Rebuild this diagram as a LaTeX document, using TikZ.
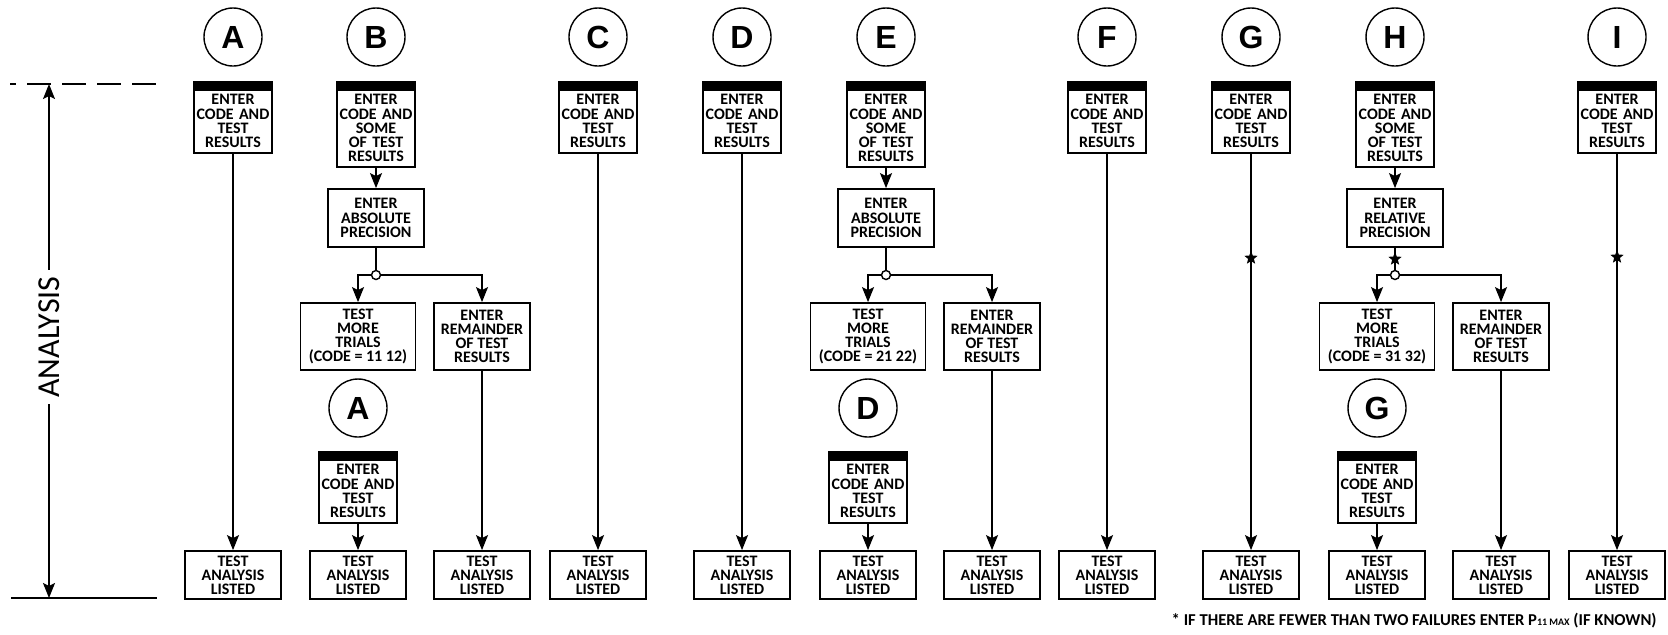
\documentclass[tikz,border=0pt]{standalone}
\usepackage{fontspec}
\setmainfont{Carlito}
\newfontfamily\letterfont{Liberation Sans}
\usetikzlibrary{arrows.meta,shapes.geometric}

\newcommand{\boxfont}{\bfseries\fontsize{8}{7.1}\selectfont}
\newcommand{\bandgap}{\rule{0pt}{9pt}}
\newcommand{\entrytext}{\bandgap ENTER\\CODE AND\\TEST\\RESULTS}
\newcommand{\entrysome}{\bandgap ENTER\\CODE AND\\SOME\\OF TEST\\RESULTS}
\newcommand{\listedtext}{TEST\\ANALYSIS\\LISTED}

\begin{document}
\begin{tikzpicture}[x=0.5pt,y=-0.5pt,
  conn/.style={line width=0.75pt},
  arr/.style={conn,-{Stealth[length=7.5pt,width=6pt,inset=1.5pt]}},
  tag/.style={circle,draw,line width=0.7pt,minimum size=29pt,inner sep=0pt,
    font=\letterfont\bfseries\fontsize{16}{16}\selectfont},
  entrybox/.style={draw,line width=0.9pt,inner xsep=0pt,inner ysep=2.5pt,
    text width=39pt,align=center,anchor=north,font=\boxfont,
    path picture={\fill (path picture bounding box.north west) rectangle
      ([yshift=-4.5pt]path picture bounding box.north east);}},
  stepbox/.style={draw,line width=0.9pt,inner sep=0pt,align=center,
    font=\boxfont,minimum width=48pt},
  listbox/.style={stepbox,minimum height=24pt},
  joint/.style={circle,draw,line width=0.7pt,fill=white,minimum size=4.5pt,inner sep=0pt},
  starmark/.style={star,star points=5,star point ratio=2.3,fill=black,
    minimum size=7pt,inner sep=0pt}
]
\fill[white] (0,0) rectangle (1668,634);
\useasboundingbox (0,0) rectangle (1668,634);

% analysis span at the left
\coordinate (dashL) at (10,84);
\coordinate (dashR) at (157,84);
\coordinate (baseL) at (11,598);
\coordinate (baseR) at (157,598);
\coordinate (axTop) at (49,84);
\coordinate (axBot) at (49,598);
\draw[line width=1pt,dash pattern=on 12pt off 5.5pt,dash phase=9pt] (dashL) -- (dashR);
\draw[line width=1pt] (baseL) -- (baseR);
\node[rotate=90,inner sep=3pt,font=\fontsize{16}{16}\selectfont] (axLabel) at (49,337) {ANALYSIS};
\draw[arr] (axLabel.east) -- (axTop);
\draw[arr] (axLabel.west) -- (axBot);

% single-path columns
\foreach \n/\x in {A/233,C/598,D/742,F/1107,G/1251,I/1617} {
  \node[tag] (c\n) at (\x,37) {\n};
  \node[entrybox] (e\n) at (\x,81) {\entrytext};
  \node[listbox] (r\n) at (\x,575) {\listedtext};
  \draw[arr] (e\n.south) -- (r\n.north);
}
\node[starmark] (sG) at (1251,258) {};
\node[starmark] (sI) at (1617,257) {};

% branched columns
\foreach \n/\x/\lt/\cd/\pr in {B/376/A/11 12/ABSOLUTE,E/886/D/21 22/ABSOLUTE,H/1395/G/31 32/RELATIVE} {
  \node[tag] (c\n) at (\x,37) {\n};
  \node[entrybox] (e\n) at (\x,81) {\entrysome};
  \node[stepbox,minimum height=29pt] (p\n) at (\x,218) {ENTER\\\pr\\PRECISION};
  \node[joint] (j\n) at (\x,275) {};
  \node[stepbox,minimum width=57.5pt,minimum height=33.5pt] (t\n) at (\x-18,336.5)
    {TEST\\MORE\\TRIALS\\(CODE = \cd)};
  \node[stepbox,minimum height=33.5pt] (m\n) at (\x+106,336.5)
    {ENTER\\REMAINDER\\OF TEST\\RESULTS};
  \node[tag] (c\n2) at (\x-18,408) {\lt};
  \node[entrybox] (e\n2) at (\x-18,451) {\entrytext};
  \node[listbox] (r\n1) at (\x-18,575) {\listedtext};
  \node[listbox] (r\n2) at (\x+106,575) {\listedtext};
  \draw[arr] (e\n.south) -- (p\n.north);
  \draw[conn] (p\n.south) -- (j\n.north);
  \draw[arr] (j\n.west) -| (t\n.north);
  \draw[arr] (j\n.east) -| (m\n.north);
  \draw[arr] (e\n2.south) -- (r\n1.north);
  \draw[arr] (m\n.south) -- (r\n2.north);
}
\node[starmark] (sH) at (1395,259) {};

% footnote
\node[anchor=east,inner sep=0pt,font=\bfseries\fontsize{8.3}{8.3}\selectfont] (note) at (1657,621)
  {* IF THERE ARE FEWER THAN TWO FAILURES ENTER P{\fontsize{5}{5}\selectfont 11 MAX} (IF KNOWN)};
\end{tikzpicture}
\end{document}
